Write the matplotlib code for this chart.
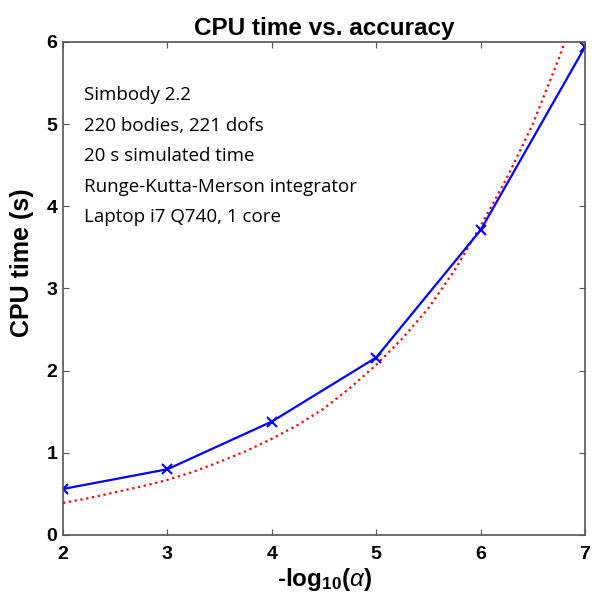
import matplotlib
matplotlib.use('Agg')
import matplotlib.pyplot as plt

plt.rcParams['font.family'] = ['Liberation Sans', 'DejaVu Sans']
plt.rcParams['mathtext.fontset'] = 'custom'
plt.rcParams['mathtext.rm'] = 'Liberation Sans:bold'
plt.rcParams['mathtext.bf'] = 'Liberation Sans:bold'
plt.rcParams['mathtext.it'] = 'Liberation Sans:italic'

# measured CPU time per accuracy level
accuracy = [2, 3, 4, 5, 6, 7]
cpu_time = [0.56, 0.80, 1.38, 2.16, 3.71, 5.94]

# exponential fit curve
fit_x = [2, 2.25, 2.5, 2.75, 3, 3.25, 3.5, 3.75, 4, 4.25, 4.5,
         4.75, 5, 5.25, 5.5, 5.75, 6, 6.25, 6.5, 6.75, 7]
fit_y = [0.39, 0.45, 0.52, 0.59, 0.67, 0.77, 0.89, 1.02, 1.17, 1.34, 1.54,
         1.79, 2.07, 2.39, 2.76, 3.22, 3.76, 4.34, 5.0, 5.8, 6.7]

info = ['Simbody 2.2', '220 bodies, 221 dofs', '20 s simulated time',
        'Runge-Kutta-Merson integrator', 'Laptop i7 Q740, 1 core']

fig = plt.figure(figsize=(6.02, 6.06), dpi=100)
ax = fig.add_axes([0.1047, 0.1172, 0.867, 0.8135])

ax.plot(fit_x, fit_y, color='red', linestyle=':', linewidth=1.6)
ax.plot(accuracy, cpu_time, color='blue', linewidth=1.6, marker='x',
        markersize=7, markeredgewidth=1.5)

ax.set_xlim(2, 7)
ax.set_ylim(0, 6)
ax.set_xticks(range(2, 8))
ax.set_yticks(range(0, 7))
ax.tick_params(direction='in', top=True, right=True, length=4, width=0.8,
               color='#555555', labelsize=14)
ax.tick_params(axis='x', pad=8)
ax.tick_params(axis='y', pad=4)
for lbl in ax.get_xticklabels() + ax.get_yticklabels():
    lbl.set_fontweight('bold')
for s in ax.spines.values():
    s.set_color('#555555')
    s.set_linewidth(1.2)

ax.set_title('CPU time vs. accuracy', fontsize=17.5, fontweight='bold', pad=5)
ax.set_ylabel('CPU time (s)', fontsize=18, fontweight='bold')
ax.yaxis.set_label_coords(-0.056, 0.552)
ax.set_xlabel(r'-log$_{10}$($\alpha$)', fontsize=17.5, fontweight='bold', labelpad=2)

# info block in the upper left
for i, line in enumerate(info):
    ax.text(0.040, 0.8925 - i * 0.0619, line, transform=ax.transAxes,
            fontsize=13.5, family='Open Sans', va='center')

fig.savefig('out.png', dpi=100)
